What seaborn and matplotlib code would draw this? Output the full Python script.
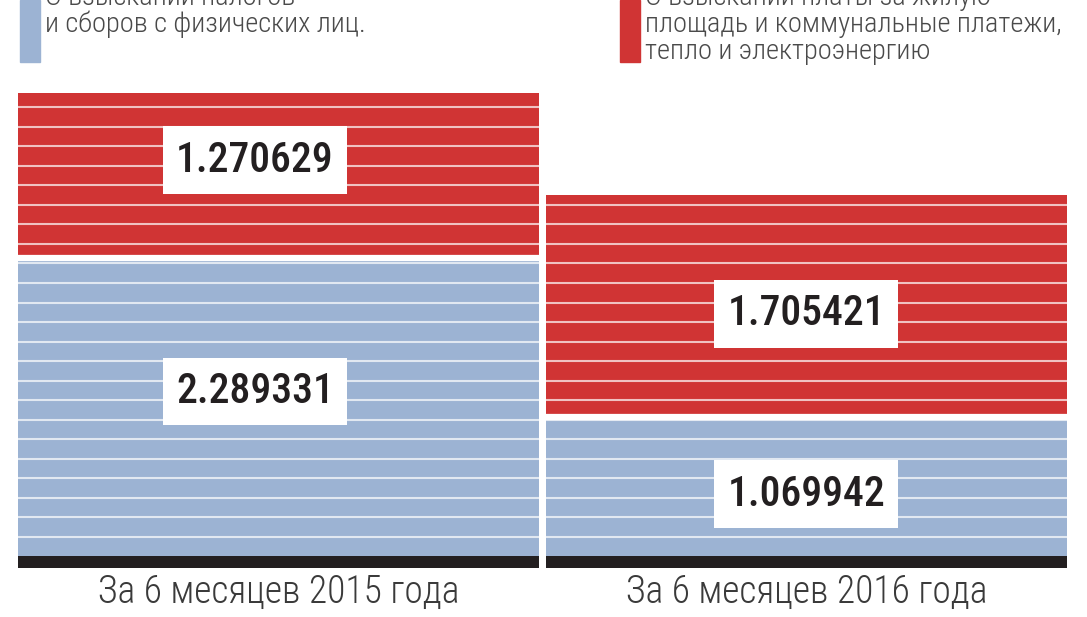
import matplotlib
matplotlib.use("Agg")
import matplotlib.pyplot as plt
import seaborn as sns
import numpy as np

# ------------------------------------------------------------
# DATA
# ------------------------------------------------------------
periods = ["За 6 месяцев 2015 года", "За 6 месяцев 2016 года"]
taxes = [2.289331, 1.069942]        # налоги и сборы с физических лиц
utilities = [1.270629, 1.705421]    # плата за жилье, коммунальные платежи
legend_taxes = ["О взыскании налогов", "и сборов с физических лиц."]
legend_utils = ["О взыскании платы за жилую",
                "площадь и коммунальные платежи,",
                "тепло и электроэнергию"]

# ------------------------------------------------------------
# STYLE
# ------------------------------------------------------------
sns.set_style("white")
plt.rcParams["font.family"] = ["Roboto Condensed", "Open Sans", "DejaVu Sans"]
plt.rcParams["font.stretch"] = "condensed"

BLUE = "#9cb3d3"; RED = "#d03434"; BLACK = "#231f20"; GREY = "#4a4a4a"
W, H = 1087, 617
PX = 130.0                 # pixels per unit on the value axis
BASE_H = 12 / PX           # black base strip under the bars
STRIPE = 0.15              # spacing of the white stripes
BAR_W = 0.987

fig = plt.figure(figsize=(W / 100, H / 100), dpi=100)
ax = fig.add_axes([15 / W, 49 / H, 1055 / W, 568 / H])

totals = [t + u for t, u in zip(taxes, utilities)]
sns.barplot(x=periods, y=totals, color=RED, width=BAR_W, saturation=1,
            edgecolor="none", ax=ax, zorder=1)
sns.barplot(x=periods, y=taxes, color=BLUE, width=BAR_W, saturation=1,
            edgecolor="none", ax=ax, zorder=1)

xpos = np.arange(len(periods))
# black base strip
ax.bar(xpos, [BASE_H] * len(periods), bottom=-BASE_H, width=BAR_W,
       color=BLACK, edgecolor="none", zorder=3)

# white stripes across the bars
for yv in np.arange(STRIPE, max(totals), STRIPE):
    ax.axhline(yv, color="white", alpha=0.7, lw=1.5, zorder=2)

# white gap between the two segments
ax.hlines(taxes, xpos - BAR_W / 2, xpos + BAR_W / 2, color="white", lw=4.5, zorder=2)

# value labels in white boxes
dx = [-0.045, 0.0]
dy = [0.12, -0.06]
for i in range(len(periods)):
    for val, yc in [(taxes[i], taxes[i] / 2), (utilities[i], taxes[i] + utilities[i] / 2)]:
        ax.text(xpos[i] + dx[i], yc + dy[i], f"{val:.6f}", ha="center", va="center",
                fontsize=30, fontweight="medium", color=BLACK, zorder=5,
                bbox=dict(boxstyle="square,pad=0.32", fc="white", ec="none"))

ax.set_xlim(-0.5, 1.5)
ax.set_ylim(-BASE_H, 556 / PX)
ax.set_yticks([])
ax.set_xlabel(""); ax.set_ylabel("")
ax.tick_params(axis="x", length=0, pad=4, labelsize=27, labelcolor="#3a3a3a")
for lab in ax.get_xticklabels():
    lab.set_fontweight("light")
for s in ax.spines.values():
    s.set_visible(False)

# legend blocks at the top (cropped in the original)
fig.patches.append(plt.Rectangle((20 / W, 1 - 62 / H), 20 / W, 62 / H, color=BLUE,
                                 transform=fig.transFigure, figure=fig))
fig.patches.append(plt.Rectangle((620 / W, 1 - 62 / H), 20 / W, 62 / H, color=RED,
                                 transform=fig.transFigure, figure=fig))
for k, line in enumerate(legend_taxes):
    fig.text(45 / W, 1 - (5 + 27 * k) / H, line, fontsize=20.5, color=GREY,
             fontweight="light", va="baseline")
for k, line in enumerate(legend_utils):
    fig.text(645 / W, 1 - (5 + 27 * k) / H, line, fontsize=20.5, color=GREY,
             fontweight="light", va="baseline")

plt.savefig("out.png", dpi=100)
plt.close()
